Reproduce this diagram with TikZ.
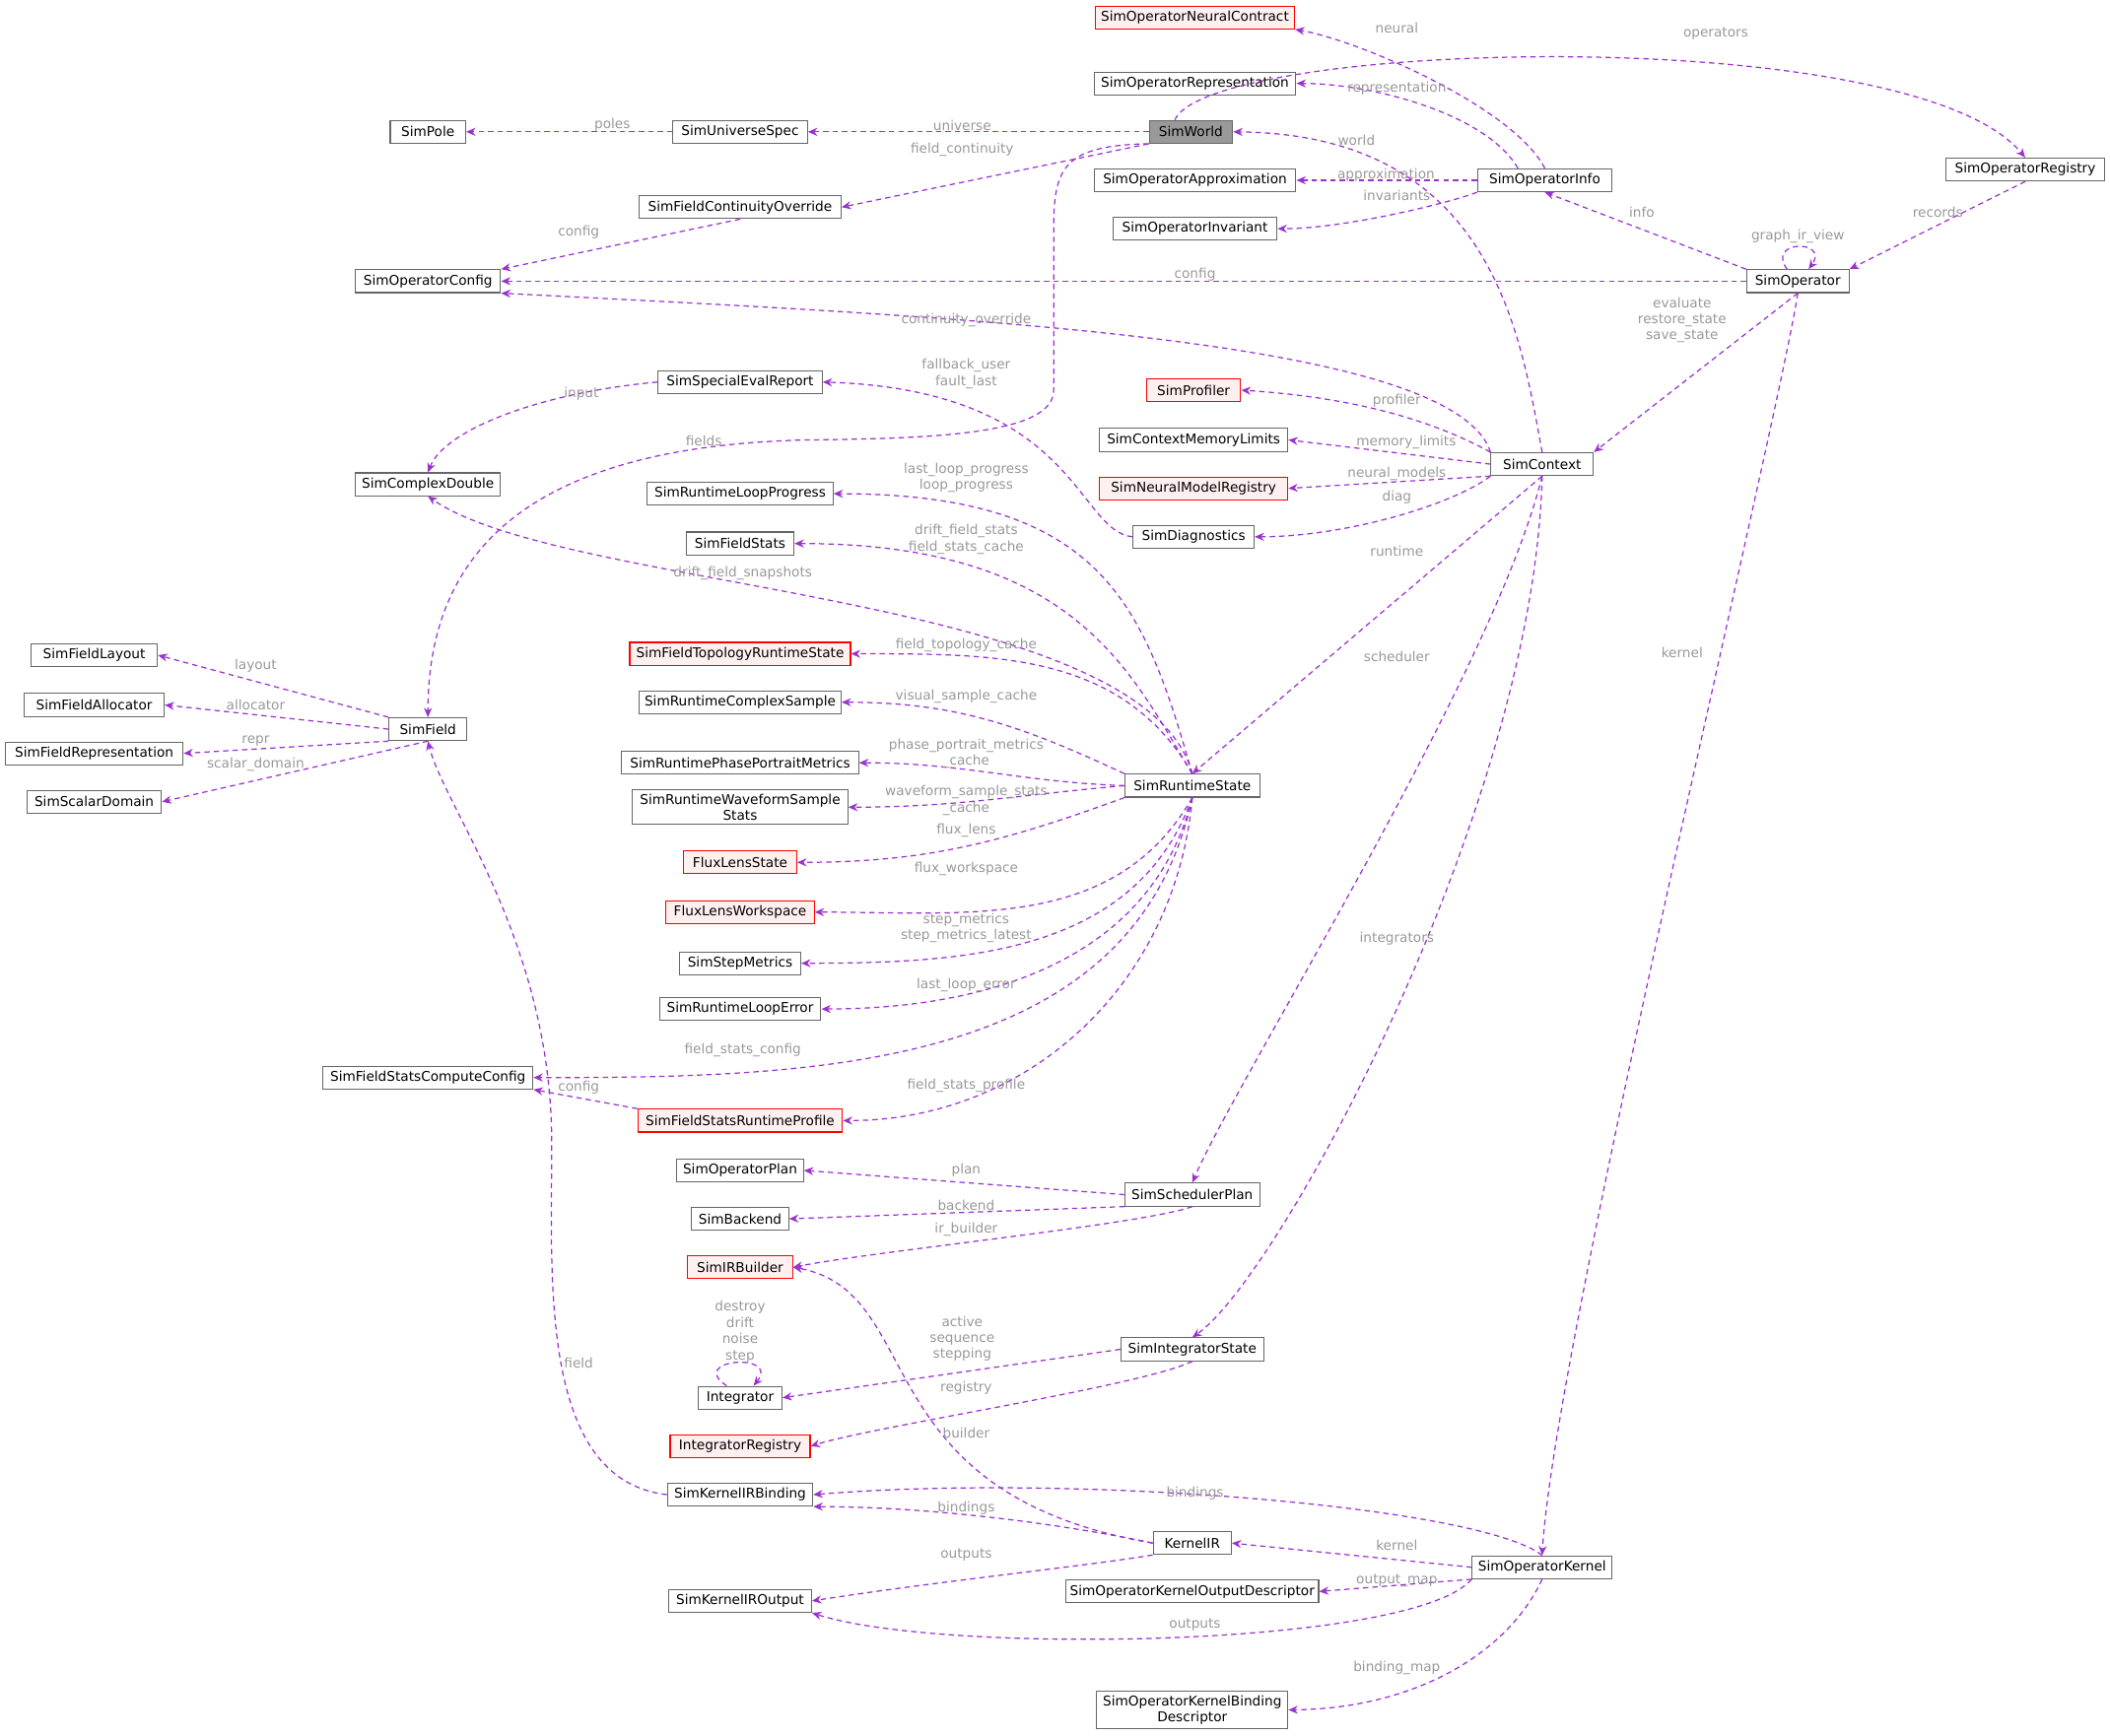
\documentclass[tikz,border=0pt]{standalone}
\usepackage{fontspec}
\setmainfont{DejaVu Sans}
\usetikzlibrary{arrows.meta}
\begin{document}
\begin{tikzpicture}[x=0.5pt,y=-0.5pt,
 box/.style={draw=black!60,fill=white,line width=0.4pt,minimum height=8.5pt,inner sep=1.5pt,font=\fontsize{5}{6}\selectfont,align=center},
 red/.style={box,draw=red,fill=red!6},
 e/.style={draw={rgb,255:red,154;green,50;blue,205},dashed,dash pattern=on 2pt off 1.5pt,line width=0.45pt,-{Stealth[length=3.5pt,width=3pt]}},
 lb/.style={font=\fontsize{5}{6}\selectfont,text=black!40,align=center,inner sep=0.5pt}]
\useasboundingbox (0,0) rectangle (1568,1290);
% nodes
\node[red,minimum width=74pt] (nc) at (888,13) {SimOperatorNeuralContract};
\node[box,minimum width=75pt] (rep) at (888,62) {SimOperatorRepresentation};
\node[box,fill=black!40,minimum width=31pt] (world) at (885,98) {SimWorld};
\node[box,minimum width=50pt] (univ) at (550,98) {SimUniverseSpec};
\node[box,minimum width=28pt] (pole) at (318,98) {SimPole};
\node[box,minimum width=75pt] (fco) at (550,154) {SimFieldContinuityOverride};
\node[box,minimum width=54pt] (ocfg) at (318,209) {SimOperatorConfig};
\node[box,minimum width=75pt] (appr) at (888,134) {SimOperatorApproximation};
\node[box,minimum width=61pt] (inv) at (888,170) {SimOperatorInvariant};
\node[box,minimum width=50pt] (info) at (1148,134) {SimOperatorInfo};
\node[box,minimum width=59pt] (reg) at (1505,126) {SimOperatorRegistry};
\node[box,minimum width=38pt] (op) at (1336,209) {SimOperator};
\node[box,minimum width=61pt] (sser) at (550,284) {SimSpecialEvalReport};
\node[box,minimum width=54pt] (cd) at (318,360) {SimComplexDouble};
\node[red,minimum width=35pt] (prof) at (887,290) {SimProfiler};
\node[box,minimum width=70pt] (mem) at (887,327) {SimContextMemoryLimits};
\node[box,minimum width=38pt] (ctx) at (1146,345) {SimContext};
\node[red,minimum width=70pt] (nmr) at (887,363) {SimNeuralModelRegistry};
\node[box,minimum width=45pt] (diag) at (887,399) {SimDiagnostics};
\node[box,minimum width=69pt] (rlp) at (550,367) {SimRuntimeLoopProgress};
\node[box,minimum width=40pt] (fs) at (550,404) {SimFieldStats};
\node[box,minimum width=47pt] (lay) at (70,487) {SimFieldLayout};
\node[box,minimum width=52pt] (alloc) at (70,524) {SimFieldAllocator};
\node[box,minimum width=66pt] (frep) at (70,560) {SimFieldRepresentation};
\node[box,minimum width=50pt] (sdom) at (70,596) {SimScalarDomain};
\node[box,minimum width=29pt] (field) at (318,542) {SimField};
\node[red,minimum width=82pt] (ftrs) at (550,486) {SimFieldTopologyRuntimeState};
\node[box,minimum width=75pt] (rcs) at (550,522) {SimRuntimeComplexSample};
\node[box,minimum width=88pt] (pp) at (550,567) {SimRuntimePhasePortraitMetrics};
\node[box,minimum width=80pt] (wave) at (550,600) {SimRuntimeWaveformSample\\Stats};
\node[box,minimum width=50pt] (rts) at (886,584) {SimRuntimeState};
\node[red,minimum width=42pt] (fls) at (550,641) {FluxLensState};
\node[red,minimum width=55pt] (flw) at (550,678) {FluxLensWorkspace};
\node[box,minimum width=45pt] (step) at (550,716) {SimStepMetrics};
\node[box,minimum width=60pt] (lerr) at (550,750) {SimRuntimeLoopError};
\node[box,minimum width=78pt] (fscc) at (318,801) {SimFieldStatsComputeConfig};
\node[red,minimum width=76pt] (fsrp) at (550,833) {SimFieldStatsRuntimeProfile};
\node[box,minimum width=47pt] (oplan) at (550,870) {SimOperatorPlan};
\node[box,minimum width=50pt] (sched) at (886,888) {SimSchedulerPlan};
\node[box,minimum width=36pt] (back) at (550,906) {SimBackend};
\node[red,minimum width=39pt] (irb) at (550,942) {SimIRBuilder};
\node[box,minimum width=31pt] (integ) at (550,1039) {Integrator};
\node[box,minimum width=53pt] (ist) at (886,1003) {SimIntegratorState};
\node[red,minimum width=52pt] (ireg) at (550,1075) {IntegratorRegistry};
\node[box,minimum width=54pt] (kirb) at (550,1111) {SimKernelIRBinding};
\node[box,minimum width=29pt] (kir) at (886,1147) {KernelIR};
\node[box,minimum width=52pt] (kern) at (1146,1165) {SimOperatorKernel};
\node[box,minimum width=53pt] (kiro) at (550,1190) {SimKernelIROutput};
\node[box,minimum width=92pt] (okod) at (886,1183) {SimOperatorKernelOutputDescriptor};
\node[box,minimum width=71pt] (okbd) at (886,1271) {SimOperatorKernelBinding\\Descriptor};
% edges
\draw[e] (univ.west) -- (pole.east);
\draw[e] (world.west) -- (univ.east);
\draw[e] (world.south west) -- (fco.east);
\draw[e] (fco.south) -- (ocfg.north east);
\draw[e] (world.south west) .. controls (790,108) and (783,125) .. (783,170) -- (783,290) .. controls (783,322) and (700,326) .. (600,327) .. controls (380,332) and (318,420) .. (field.north);
\draw[e] ([xshift=-6pt]world.north) .. controls (900,30) and (1420,15) .. (reg.north);
\draw[e] (info.north) .. controls (1125,80) and (1010,30) .. (nc.south east);
\draw[e] ([xshift=-10pt]info.north) .. controls (1105,85) and (1020,62) .. (rep.east);
\draw[e] (info.west) -- (appr.east);
\draw[e] (info.south west) .. controls (1080,150) and (1000,170) .. (inv.east);
\draw[e] (ctx.north) .. controls (1130,250) and (1110,100) .. (world.east);
\draw[e] (op.north west) -- (info.south);
\draw[e] (reg.south) -- (op.north east);
\draw[e] ([xshift=-4pt]op.north) .. controls (1312,178) and (1360,178) .. ([xshift=4pt]op.north);
\draw[e] (op.west) -- (ocfg.east);
\draw[e] (op.south) -- (ctx.north east);
\draw[e] (op.south) .. controls (1320,320) and (1155,1000) .. (kern.north);
\draw[e] (ctx.north west) .. controls (1080,250) and (700,235) .. (ocfg.south east);
\draw[e] (ctx.north west) .. controls (1060,310) and (1000,295) .. (prof.east);
\draw[e] (ctx.west) -- (mem.east);
\draw[e] (ctx.south west) -- (nmr.east);
\draw[e] (ctx.south west) .. controls (1080,375) and (1000,399) .. (diag.east);
\draw[e] (ctx.south) -- (rts.north);
\draw[e] (ctx.south) .. controls (1110,500) and (920,800) .. (sched.north);
\draw[e] (ctx.south) .. controls (1140,600) and (950,950) .. (ist.north);
\draw[e] (diag.west) .. controls (800,395) and (800,290) .. (sser.east);
\draw[e] (sser.west) .. controls (400,292) and (330,320) .. (cd.north);
\draw[e] (rts.north) .. controls (850,450) and (820,367) .. (rlp.east);
\draw[e] (rts.north) .. controls (840,500) and (800,404) .. (fs.east);
\draw[e] (rts.north) .. controls (850,440) and (420,440) .. (cd.south);
\draw[e] (rts.north) to[out=120,in=0] (ftrs.east);
\draw[e] (rts.north west) to[out=155,in=0] (rcs.east);
\draw[e] (rts.west) to[out=178,in=0] (pp.east);
\draw[e] (rts.west) to[out=185,in=0] (wave.east);
\draw[e] (rts.south west) to[out=200,in=0] (fls.east);
\draw[e] (rts.south) to[out=240,in=0] (flw.east);
\draw[e] (rts.south) to[out=250,in=0] (step.east);
\draw[e] (rts.south) to[out=256,in=0] (lerr.east);
\draw[e] (rts.south) to[out=258,in=0] (fscc.east);
\draw[e] (rts.south) to[out=265,in=0] (fsrp.east);
\draw[e] (fsrp.north west) -- (fscc.south east);
\draw[e] (field.north west) -- (lay.east);
\draw[e] (field.west) -- (alloc.east);
\draw[e] (field.south west) -- (frep.east);
\draw[e] (field.south) -- (sdom.east);
\draw[e] (sched.west) -- (oplan.east);
\draw[e] (sched.south west) -- (back.east);
\draw[e] (sched.south) .. controls (850,910) and (650,930) .. (irb.east);
\draw[e] (ist.west) -- (integ.east);
\draw[e] (ist.south) .. controls (850,1030) and (650,1060) .. (ireg.east);
\draw[e] ([xshift=-5pt]integ.north) .. controls (510,1010) and (580,1005) .. ([xshift=5pt]integ.north);
\draw[e] (kirb.west) .. controls (400,1100) and (410,950) .. (410,850) .. controls (410,700) and (330,600) .. (field.south);
\draw[e] (kir.west) .. controls (640,1110) and (690,960) .. (irb.east);
\draw[e] (kir.west) .. controls (800,1135) and (700,1120) .. (kirb.south east);
\draw[e] (kir.south west) .. controls (800,1165) and (700,1175) .. (kiro.east);
\draw[e] (kern.north) .. controls (1100,1120) and (800,1095) .. (kirb.east);
\draw[e] (kern.west) -- (kir.east);
\draw[e] (kern.south west) -- (okod.east);
\draw[e] (kern.south west) .. controls (1050,1225) and (700,1230) .. (kiro.south east);
\draw[e] (kern.south) .. controls (1120,1230) and (1050,1270) .. (okbd.east);
% labels
\node[lb] at (455,93) {poles};
\node[lb] at (715,93) {universe};
\node[lb] at (715,111) {field\_continuity};
\node[lb] at (430,173) {config};
\node[lb] at (523,328) {fields};
\node[lb] at (1275,25) {operators};
\node[lb] at (1038,21) {neural};
\node[lb] at (1038,66) {representation};
\node[lb] at (1030,130) {approximation};
\node[lb] at (1038,145) {invariants};
\node[lb] at (1008,104) {world};
\node[lb] at (1220,158) {info};
\node[lb] at (1440,158) {records};
\node[lb] at (1336,176) {graph\_ir\_view};
\node[lb] at (888,204) {config};
\node[lb] at (1250,238) {evaluate\\restore\_state\\save\_state};
\node[lb] at (1250,485) {kernel};
\node[lb] at (718,238) {continuity\_override};
\node[lb] at (1038,298) {profiler};
\node[lb] at (1045,329) {memory\_limits};
\node[lb] at (1038,352) {neural\_models};
\node[lb] at (1038,370) {diag};
\node[lb] at (1038,410) {runtime};
\node[lb] at (1038,488) {scheduler};
\node[lb] at (1038,698) {integrators};
\node[lb] at (718,278) {fallback\_user\\fault\_last};
\node[lb] at (432,293) {input};
\node[lb] at (718,355) {last\_loop\_progress\\loop\_progress};
\node[lb] at (718,401) {drift\_field\_stats\\field\_stats\_cache};
\node[lb] at (552,426) {drift\_field\_snapshots};
\node[lb] at (718,480) {field\_topology\_cache};
\node[lb] at (718,518) {visual\_sample\_cache};
\node[lb] at (718,560) {phase\_portrait\_metrics\\\_cache};
\node[lb] at (718,595) {waveform\_sample\_stats\\\_cache};
\node[lb] at (718,617) {flux\_lens};
\node[lb] at (718,646) {flux\_workspace};
\node[lb] at (718,690) {step\_metrics\\step\_metrics\_latest};
\node[lb] at (718,732) {last\_loop\_error};
\node[lb] at (552,781) {field\_stats\_config};
\node[lb] at (718,807) {field\_stats\_profile};
\node[lb] at (430,808) {config};
\node[lb] at (190,495) {layout};
\node[lb] at (190,524) {allocator};
\node[lb] at (190,551) {repr};
\node[lb] at (190,568) {scalar\_domain};
\node[lb] at (718,870) {plan};
\node[lb] at (718,896) {backend};
\node[lb] at (718,914) {ir\_builder};
\node[lb] at (715,995) {active\\sequence\\stepping};
\node[lb] at (718,1032) {registry};
\node[lb] at (550,990) {destroy\\drift\\noise\\step};
\node[lb] at (430,1013) {field};
\node[lb] at (718,1065) {builder};
\node[lb] at (718,1121) {bindings};
\node[lb] at (718,1156) {outputs};
\node[lb] at (888,1110) {bindings};
\node[lb] at (1038,1149) {kernel};
\node[lb] at (1038,1175) {output\_map};
\node[lb] at (888,1208) {outputs};
\node[lb] at (1038,1240) {binding\_map};
\end{tikzpicture}
\end{document}
